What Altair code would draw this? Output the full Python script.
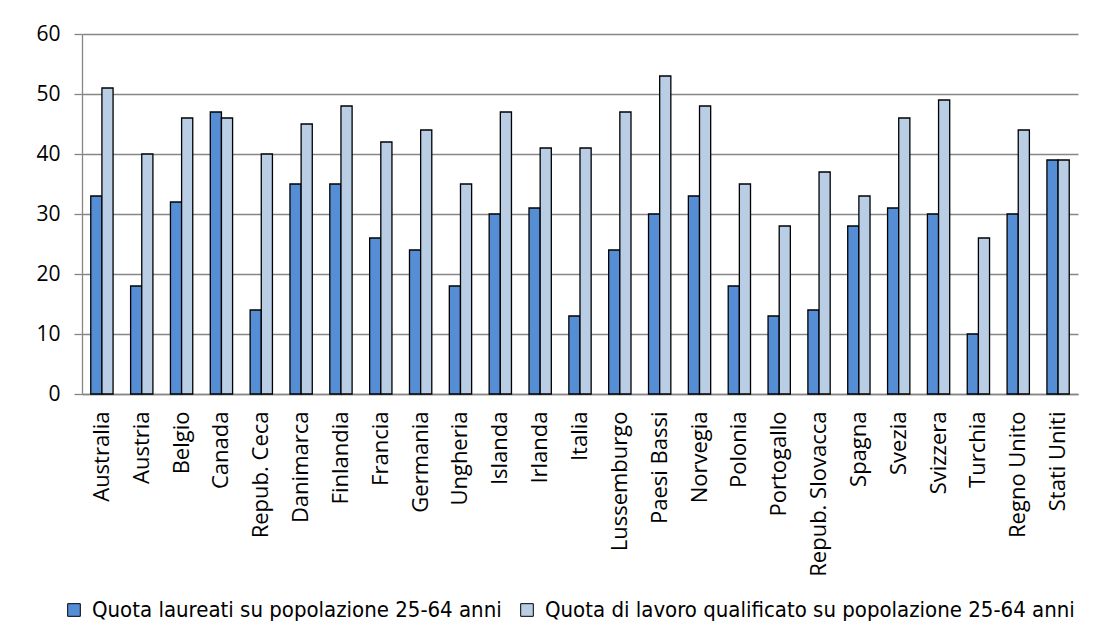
import altair as alt
import pandas as pd

countries = ["Australia", "Austria", "Belgio", "Canada", "Repub. Ceca", "Danimarca",
             "Finlandia", "Francia", "Germania", "Ungheria", "Islanda", "Irlanda",
             "Italia", "Lussemburgo", "Paesi Bassi", "Norvegia", "Polonia", "Portogallo",
             "Repub. Slovacca", "Spagna", "Svezia", "Svizzera", "Turchia", "Regno Unito",
             "Stati Uniti"]
laureati = [33, 18, 32, 47, 14, 35, 35, 26, 24, 18, 30, 31, 13, 24, 30, 33, 18, 13,
            14, 28, 31, 30, 10, 30, 39]
qualificato = [51, 40, 46, 46, 40, 45, 48, 42, 44, 35, 47, 41, 41, 47, 53, 48, 35, 28,
               37, 33, 46, 49, 26, 44, 39]
series = ["Quota laureati su popolazione 25-64 anni",
          "Quota di lavoro qualificato su popolazione 25-64 anni"]
colors = ["#558ED5", "#B9CDE5"]

rows = []
for c, a, b in zip(countries, laureati, qualificato):
    rows.append({"paese": c, "serie": series[0], "valore": a})
    rows.append({"paese": c, "serie": series[1], "valore": b})
df = pd.DataFrame(rows)

font = "Open Sans"
legend_font = "'Liberation Sans Narrow', 'DejaVu Sans Condensed', 'Roboto Condensed', Roboto"

chart = alt.Chart(df).mark_bar(stroke="black", strokeWidth=1.3).encode(
    x=alt.X("paese:N", sort=countries, title=None,
            scale=alt.Scale(paddingInner=0.44, paddingOuter=0.22),
            axis=alt.Axis(labelAngle=-90, labelFont=font, labelFontSize=22,
                          labelColor="#000000", labelPadding=17, ticks=False,
                          domainColor="#868686", domainWidth=1.3, labelLimit=300)),
    xOffset=alt.XOffset("serie:N", sort=series),
    y=alt.Y("valore:Q", title=None,
            scale=alt.Scale(domain=[0, 60]),
            axis=alt.Axis(values=[0, 10, 20, 30, 40, 50, 60], labelFont=font,
                          labelFontSize=21, labelColor="#000000", labelPadding=14,
                          tickSize=8, tickColor="#868686", tickWidth=1.3,
                          domainColor="#868686", domainWidth=1.3,
                          gridColor="#868686", gridWidth=1.3)),
    color=alt.Color("serie:N", sort=series,
                    scale=alt.Scale(domain=series, range=colors),
                    legend=alt.Legend(title=None, orient="none", direction="horizontal",
                                      legendX=-19, legendY=565,
                                      symbolType="square", symbolSize=160,
                                      symbolStrokeColor="black", symbolStrokeWidth=1,
                                      labelFont=legend_font,
                                      labelFontSize=22, labelColor="#000000",
                                      labelLimit=700, columnPadding=14,
                                      labelOffset=7)),
).properties(
    width=996, height=360,
    autosize=alt.AutoSizeParams(type="none"),
    padding={"left": 74, "top": 26, "right": 22, "bottom": 237},
).configure_view(stroke=None).configure_axis(gridOpacity=1)

chart.save("out.html", embed_options={"renderer": "svg", "actions": False})
